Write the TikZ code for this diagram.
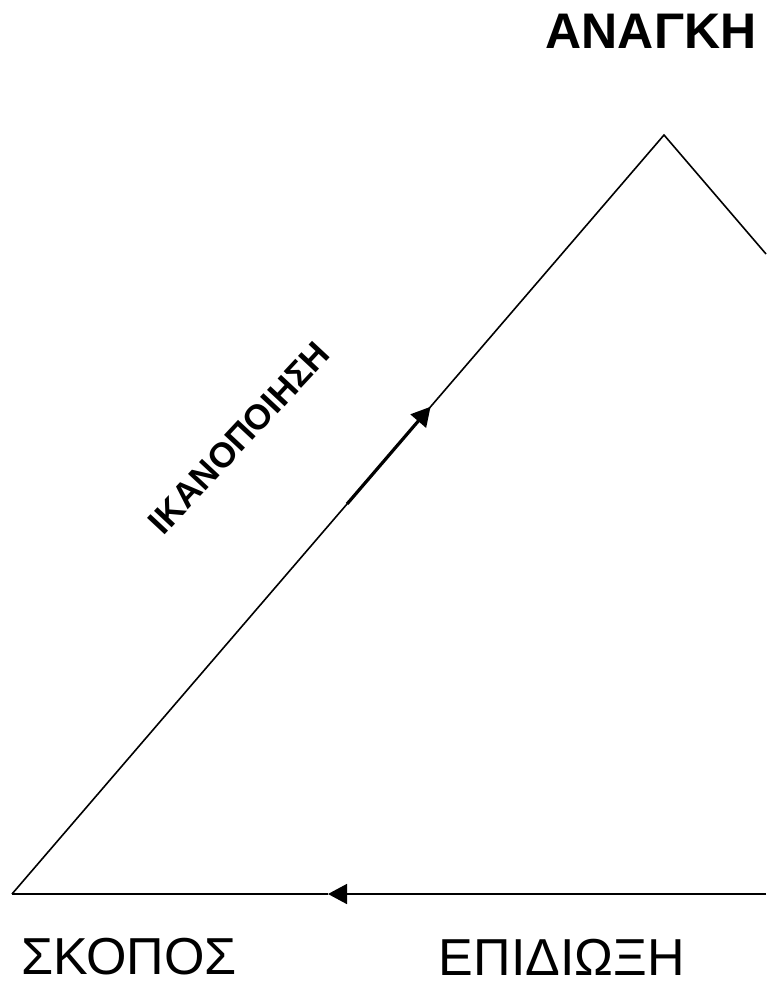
\documentclass[tikz,border=0pt]{standalone}
\usepackage{fontspec}
\setmainfont{Liberation Sans}
\usepackage{tikz}
\usetikzlibrary{arrows.meta,positioning,calc}

\begin{document}
\begin{tikzpicture}[
    x=0.5pt, y=-0.5pt,
    side/.style={
        line width=0.8pt
    },
    arrow/.style={
        -{Triangle[length=9.5pt,width=10pt]},
        line width=0.8pt
    },
    thickarrow/.style={
        -{Triangle[length=9.5pt,width=10pt]},
        line width=1.6pt
    },
    word/.style={
        inner sep=0pt,
        font=\fontsize{26}{30}\selectfont
    },
    boldword/.style={
        inner sep=0pt,
        font=\fontsize{25}{30}\selectfont\bfseries
    },
    tiltword/.style={
        inner sep=0pt,
        rotate=47,
        font=\fontsize{17.5}{22}\selectfont\bfseries
    }
]
\useasboundingbox (0,0) rectangle (766,988);

% corners of the triangle
\coordinate (top) at (664,135);
\coordinate (left) at (12,894);
\coordinate (rightcut) at (766,254);
\coordinate (bottomcut) at (766,894);
\coordinate (bmid) at (328,894);

% labels
\node[boldword] (anagki) at (651,31) {ΑΝΑΓΚΗ};
\node[word] (skopos) at (129,957) {ΣΚΟΠΟΣ};
\node[word] (epidioxi) at (562,957) {ΕΠΙΔΙΩΞΗ};
\node[tiltword] (ikanopoiisi) at (239,438) {ΙΚΑΝΟΠΟΙΗΣΗ};

% sides
\draw[side] (left) -- (top) -- (rightcut);
\draw[arrow] (bottomcut) -- (bmid);
\draw[side] (bmid) -- (left);
\draw[thickarrow] ($(left)!0.514!(top)$) -- ($(left)!0.642!(top)$);

\end{tikzpicture}
\end{document}
